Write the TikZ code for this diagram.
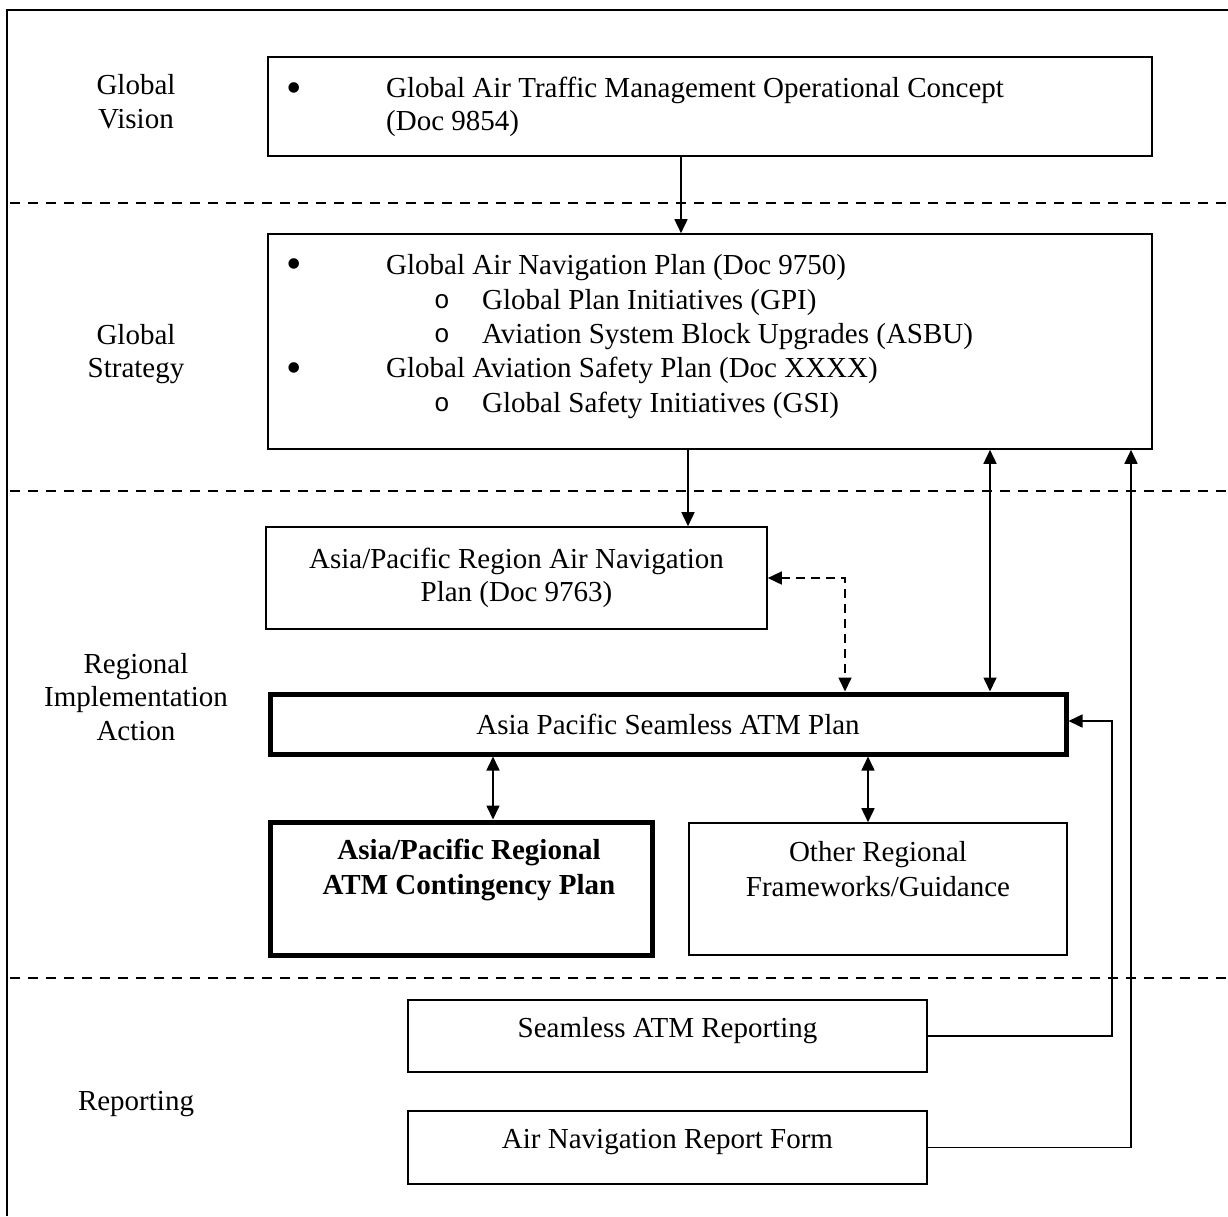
\documentclass[tikz,border=0pt]{standalone}
\usepackage{fontspec}
\setmainfont{Liberation Serif}
\newfontfamily\subbullet{Liberation Mono}
\usetikzlibrary{arrows.meta}

\begin{document}
\begin{tikzpicture}[x=1pt,y=-1pt,
  font=\fontsize{29}{33.5}\selectfont,
  every node/.style={inner sep=0pt},
  docbox/.style={draw,line width=1.6pt},
  planbox/.style={draw,line width=5pt},
  layer/.style={align=center},
  dotmark/.style={font=\fontsize{44}{44}\selectfont},
  ringmark/.style={font=\fontsize{26}{26}\subbullet},
  layerline/.style={line width=1.6pt,dash pattern=on 10pt off 8pt},
  arr/.style={line width=1.6pt,-{Triangle[length=14pt,width=13pt]}},
  twoway/.style={line width=1.6pt,{Triangle[length=14pt,width=13pt]}-{Triangle[length=14pt,width=13pt]}}]
\useasboundingbox (0,0) rectangle (1228,1216);

% frame and layers
\draw[line width=2.6pt] (7,1216) -- (7,10) -- (1228,10);
\draw[layerline] (10,203) -- (1228,203);
\draw[layerline] (10,491) -- (1228,491);
\draw[layerline] (10,978) -- (1228,978);

\node[layer] (vision) at (136,101.5) {Global\\Vision};
\node[layer] (strategy) at (136,354) {Global\\Strategy};
\node[layer] (regional) at (136,697) {Regional\\Implementation\\Action};
\node[anchor=base] (reporting) at (136,1110) {Reporting};

% global vision
\node[docbox,minimum width=884pt,minimum height=99pt] (gv) at (710,106.5) {};
\node[dotmark] (gvdot) at (294,92.5) {•};
\node[anchor=base west] (gvtxt) at (386,97) {Global Air Traffic Management Operational Concept};
\node[anchor=base west] (gvdoc) at (386,130) {(Doc 9854)};

% global strategy
\node[docbox,minimum width=884pt,minimum height=215pt] (gs) at (710,341.5) {};
\node[dotmark] (gsdotA) at (294,269) {•};
\node[anchor=base west] (gsA) at (386,274) {Global Air Navigation Plan (Doc 9750)};
\node[ringmark] (gsoA) at (442,302) {o};
\node[anchor=base west] (gsB) at (482,309) {Global Plan Initiatives (GPI)};
\node[ringmark] (gsoB) at (442,336) {o};
\node[anchor=base west] (gsC) at (482,343) {Aviation System Block Upgrades (ASBU)};
\node[dotmark] (gsdotB) at (294,373) {•};
\node[anchor=base west] (gsD) at (386,377) {Global Aviation Safety Plan (Doc XXXX)};
\node[ringmark] (gsoC) at (442,405) {o};
\node[anchor=base west] (gsE) at (482,412) {Global Safety Initiatives (GSI)};

% regional
\node[docbox,minimum width=501pt,minimum height=102pt,align=center] (anp) at (516.5,578) {Asia/Pacific Region Air Navigation\\Plan (Doc 9763)};
\node[planbox,minimum width=796pt,minimum height=60pt] (sam) at (668,724) {Asia Pacific Seamless ATM Plan};
\node[planbox,minimum width=382pt,minimum height=133pt] (cont) at (461,888.5) {};
\node[layer,font=\fontsize{29}{35}\selectfont\bfseries] (conttxt) at (469,870) {Asia/Pacific Regional\\ATM Contingency Plan};
\node[docbox,minimum width=378pt,minimum height=132pt] (oth) at (878,889) {};
\node[layer,font=\fontsize{29}{35}\selectfont] (othtxt) at (878,869) {Other Regional\\Frameworks/Guidance};

% reporting
\node[docbox,minimum width=519pt,minimum height=72pt] (sar) at (667.5,1036) {};
\node[anchor=base] (sartxt) at (667.5,1037) {Seamless ATM Reporting};
\node[docbox,minimum width=519pt,minimum height=73pt] (anr) at (667.5,1147.5) {};
\node[anchor=base] (anrtxt) at (667.5,1148) {Air Navigation Report Form};

% links
\draw[arr] ([xshift=-29pt]gv.south) -- ([xshift=-29pt]gv.south |- gs.north);
\draw[arr] ([xshift=-22pt]gs.south) -- ([xshift=-22pt]gs.south |- anp.north);
\draw[twoway] ([xshift=280pt]gs.south) -- ([xshift=280pt]gs.south |- sam.north);
\draw[twoway,dash pattern=on 9pt off 6pt] (anp.east) -| ([xshift=177pt]sam.north);
\draw[twoway] ([xshift=-175pt]sam.south) -- ([xshift=-175pt]sam.south |- cont.north);
\draw[twoway] ([xshift=200pt]sam.south) -- ([xshift=200pt]sam.south |- oth.north);
\draw[arr] (sar.east) -- ++(184,0) |- ([yshift=3pt]sam.east);
\draw[arr] (anr.east) -| ([xshift=421pt]gs.south);
\end{tikzpicture}
\end{document}
